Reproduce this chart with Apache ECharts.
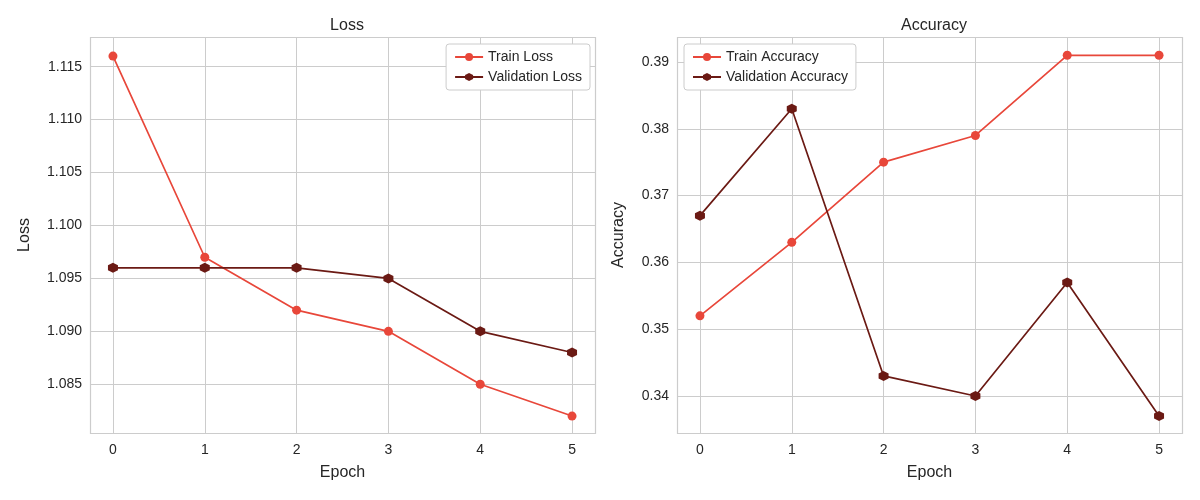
<!DOCTYPE html>
<html><head><meta charset="utf-8">
<script src="https://cdn.jsdelivr.net/npm/echarts@6/dist/echarts.min.js"></script>
<style>html,body{margin:0;padding:0;background:#fff}#c{width:1200px;height:500px}</style>
</head><body><div id="c"></div>
<script>
const epochs = [0,1,2,3,4,5];
const trainLoss = [1.116,1.097,1.092,1.090,1.085,1.082];
const valLoss = [1.096,1.096,1.096,1.095,1.090,1.088];
const trainAcc = [0.352,0.363,0.375,0.379,0.391,0.391];
const valAcc = [0.367,0.383,0.343,0.340,0.357,0.337];
const lossTicks = [1.085,1.090,1.095,1.100,1.105,1.110,1.115];
const accTicks = [0.34,0.35,0.36,0.37,0.38,0.39];
const C1='#e8473a', C2='#6b1a14';
const hex='path://M0,-1L0.866,-0.5L0.866,0.5L0,1L-0.866,0.5L-0.866,-0.5Z';
const F='Liberation Sans';
const pair = a => epochs.map((e,i)=>[e,a[i]]);
const chart = echarts.init(document.getElementById('c'));
function xAxis(g){return {type:'value',gridIndex:g,min:-0.25,max:5.25,interval:1,
  axisLabel:{customValues:epochs,color:'#262626',fontSize:14,fontFamily:F,margin:10,formatter:v=>String(v)},
  axisTick:{show:false,customValues:epochs},
  splitLine:{show:true,lineStyle:{color:'#cccccc',width:1}},
  axisLine:{show:false},
  name:'Epoch',nameLocation:'middle',nameGap:32,nameTextStyle:{color:'#262626',fontSize:16,fontFamily:F}};}
function yAxis(g,min,max,ticks,dec,name,gap){return {type:'value',gridIndex:g,min:min,max:max,
  axisLabel:{customValues:ticks,color:'#262626',fontSize:14,fontFamily:F,formatter:v=>v.toFixed(dec)},
  axisTick:{show:false,customValues:ticks},
  splitLine:{show:true,lineStyle:{color:'#cccccc',width:1}},
  axisLine:{show:false},
  name:name,nameLocation:'middle',nameGap:gap,nameTextStyle:{color:'#262626',fontSize:16,fontFamily:F}};}
function s(name,data,g,color,sym){return {name:name,type:'line',xAxisIndex:g,yAxisIndex:g,data:pair(data),
  symbol:sym,symbolSize:sym==='circle'?9:10,showSymbol:true,lineStyle:{color:color,width:1.7},
  itemStyle:{color:color},emphasis:{disabled:true}};}
const leg = {borderColor:'#cccccc',borderWidth:1,borderRadius:3,backgroundColor:'#fff',orient:'vertical',
  itemWidth:28,itemHeight:10,itemGap:6,padding:[6,8],textStyle:{color:'#262626',fontSize:14,fontFamily:F}};
chart.setOption({
  animation:false,
  title:[{text:'Loss',left:342,top:13,textAlign:'center',textStyle:{fontSize:16,fontWeight:'normal',color:'#262626',fontFamily:F}},
         {text:'Accuracy',left:929,top:13,textAlign:'center',textStyle:{fontSize:16,fontWeight:'normal',color:'#262626',fontFamily:F}}],
  grid:[{left:90,top:37,width:505,height:396},{left:677,top:37,width:505,height:396}],
  graphic:[{type:'rect',shape:{x:90.5,y:37.5,width:505,height:396},style:{fill:'none',stroke:'#cccccc',lineWidth:1.2},z:1},
           {type:'rect',shape:{x:677.5,y:37.5,width:505,height:396},style:{fill:'none',stroke:'#cccccc',lineWidth:1.2},z:1}],
  xAxis:[xAxis(0),xAxis(1)],
  yAxis:[yAxis(0,1.0804,1.1178,lossTicks,3,'Loss',57),yAxis(1,0.33446,0.39374,accTicks,2,'Accuracy',50)],
  legend:[Object.assign({},leg,{data:['Train Loss','Validation Loss'],right:610,top:44}),
          Object.assign({},leg,{data:['Train Accuracy','Validation Accuracy'],left:684,top:44})],
  series:[s('Train Loss',trainLoss,0,C1,'circle'),s('Validation Loss',valLoss,0,C2,hex),
          s('Train Accuracy',trainAcc,1,C1,'circle'),s('Validation Accuracy',valAcc,1,C2,hex)]
});
</script></body></html>
